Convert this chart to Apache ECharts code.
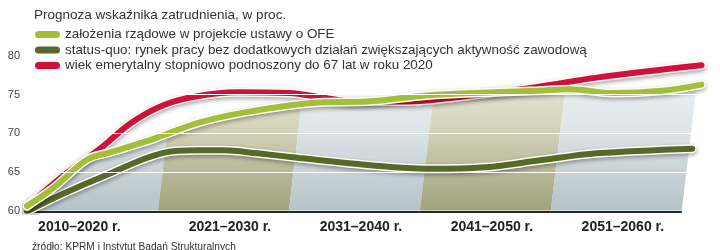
<!DOCTYPE html>
<html><head><meta charset="utf-8">
<script src="https://cdn.jsdelivr.net/npm/echarts@6/dist/echarts.min.js"></script>
<style>html,body{margin:0;padding:0;background:#fff}#c{width:720px;height:250px}</style>
</head><body><div id="c"></div>
<script>
const titleText = 'Prognoza wskaźnika zatrudnienia, w proc.';
const sourceText = 'źródło: KPRM i Instytut Badań Strukturalnych';
const seriesNames = [
  'założenia rządowe w projekcie ustawy o OFE',
  'status-quo: rynek pracy bez dodatkowych działań zwiększających aktywność zawodową',
  'wiek emerytalny stopniowo podnoszony do 67 lat w roku 2020'
];
const periodLabels = ['2010–2020 r.', '2021–2030 r.', '2031–2040 r.', '2041–2050 r.', '2051–2060 r.'];
const periodLabelYears = [2014, 2025.5, 2035.5, 2045.5, 2055.5];
const decadeStarts = [2010, 2020, 2030, 2040, 2050];
const decadeEnds = [2020, 2030, 2040, 2050, 2060];
const yTicks = [60, 65, 70, 75, 80];

const greenYears  = [2010, 2012, 2014.6, 2016.3, 2019.4, 2020.5, 2023.2, 2026.3, 2030, 2032.6, 2036, 2040.5, 2045.6, 2049, 2051.5, 2054.7, 2058.5, 2061.5];
const greenValues = [60.6, 62.9, 66.6, 67.5, 69.1, 69.8, 71.4, 72.6, 73.6, 74.0, 74.1, 74.9, 75.3, 75.5, 75.7, 75.2, 75.5, 76.3];
const darkYears   = [2010, 2012.8, 2015.8, 2020.5, 2023, 2025, 2027.6, 2030.8, 2036, 2040.5, 2045, 2049.2, 2053.5, 2060.8];
const darkValues  = [59.9, 62.2, 64.4, 67.5, 67.8, 67.8, 67.4, 66.8, 65.9, 65.4, 65.6, 66.5, 67.4, 68.0];
const redYears    = [2010, 2011, 2013, 2015.5, 2018, 2020.5, 2023, 2026, 2030, 2033, 2035, 2039, 2043, 2049, 2053.5, 2061.5];
const redValues   = [60.5, 62.0, 64.8, 67.9, 71.4, 73.7, 74.8, 75.3, 75.2, 74.5, 74.1, 74.1, 74.7, 76.0, 77.2, 78.8];

const zip = (xs, ys) => xs.map((x, i) => [x, ys[i]]);
const greenData = zip(greenYears, greenValues);
const darkData = zip(darkYears, darkValues);
const redData = zip(redYears, redValues);

const FONT = 'Liberation Sans';
const SMOOTH = 0.35;
const SLANT = 1.4;
const colGreen = '#a3be3a', colDark = '#56682a', colRed = '#d2103e';

function bandFill(i) {
  const olive = i % 2 === 1;
  return new echarts.graphic.LinearGradient(0, 0, 0, 1, olive ? [
    {offset: 0, color: '#eeeee2'}, {offset: 0.45, color: '#d5d5bd'}, {offset: 1, color: '#a0a17c'}
  ] : [
    {offset: 0, color: '#f3f5f6'}, {offset: 0.45, color: '#e0e6e9'}, {offset: 1, color: '#b6c3c9'}
  ]);
}

function outline(data) {
  return {type: 'line', data, smooth: SMOOTH, symbol: 'none', silent: true,
    lineStyle: {color: '#fffdf2', width: 9, cap: 'round', shadowColor: 'rgba(0,0,0,0.35)', shadowBlur: 4, shadowOffsetY: 2}};
}
function mainLine(name, data, color) {
  return {type: 'line', name, data, smooth: SMOOTH, symbol: 'none', color,
    lineStyle: {color, width: 6, cap: 'round'}};
}

const chart = echarts.init(document.getElementById('c'), null, {renderer: 'canvas'});
chart.setOption({
  animation: false,
  textStyle: {fontFamily: FONT},
  title: [
    {text: titleText, left: 29, top: 3, textStyle: {fontFamily: FONT, fontSize: 13.5, fontWeight: 'normal', color: '#333'}},
    {text: sourceText, left: 27, top: 237, textStyle: {fontFamily: FONT, fontSize: 10.2, fontWeight: 'normal', color: '#333'}}
  ],
  legend: {
    orient: 'vertical', left: 30, top: 23, itemWidth: 25, itemHeight: 7, itemGap: 2.5,
    icon: 'path://M3.5,0 H21.5 A3.5,3.5 0 0 1 21.5,7 H3.5 A3.5,3.5 0 0 1 3.5,0 Z',
    data: [seriesNames[0], seriesNames[1], seriesNames[2]],
    textStyle: {fontFamily: FONT, fontSize: 13.4, color: '#333', padding: [0, 0, 0, 0]},
    selectedMode: false
  },
  grid: {left: 27, right: 12, top: 56, bottom: 39.5, containLabel: false},
  xAxis: {
    type: 'value', min: 2010, max: 2062, interval: 0.5,
    axisLine: {show: false}, axisTick: {show: false}, splitLine: {show: false},
    axisLabel: {
      interval: 0, margin: 10, showMaxLabel: false, showMinLabel: false, hideOverlap: false,
      fontFamily: FONT, fontSize: 14, fontWeight: 'bold', color: '#222',
      formatter: v => { const i = periodLabelYears.indexOf(v); return i >= 0 ? periodLabels[i] : ''; }
    }
  },
  yAxis: {
    type: 'value', min: yTicks[0], max: yTicks[yTicks.length - 1], interval: 5,
    axisLine: {show: false}, axisTick: {show: false}, splitLine: {show: false},
    axisLabel: {margin: 7, fontFamily: FONT, fontSize: 11, color: '#444'}
  },
  series: [
    {
      type: 'custom', silent: true,
      data: decadeStarts.map((s, i) => [s, decadeEnds[i]]),
      encode: {x: [0, 1]},
      renderItem: (params, api) => {
        const x0 = api.value(0), x1 = api.value(1);
        const b0 = api.coord([x0, yTicks[0]]), b1 = api.coord([x1, yTicks[0]]);
        const t0 = api.coord([x0 + SLANT, yTicks[yTicks.length - 1]]), t1 = api.coord([x1 + SLANT, yTicks[yTicks.length - 1]]);
        return {type: 'group', children: [
          {type: 'polygon', shape: {points: [b0, b1, t1, t0]}, style: {fill: bandFill(params.dataIndex)}},
          {type: 'line', shape: {x1: b0[0], y1: b0[1] + 1.5, x2: b1[0], y2: b1[1] + 1.5}, style: {stroke: '#2a2a2a', lineWidth: 2}}
        ]};
      }
    },
    {
      type: 'line', data: greenData, smooth: SMOOTH, symbol: 'none', silent: true,
      lineStyle: {width: 0, opacity: 0},
      areaStyle: {color: '#ffffff', opacity: 1, origin: 'end'},
      markLine: {
        silent: true, symbol: 'none', label: {show: false},
        lineStyle: {color: '#ffffff', width: 1.2, type: 'solid'},
        data: yTicks.slice(1, 4).map(v => ({yAxis: v}))
      }
    },
    outline(darkData), mainLine(seriesNames[1], darkData, colDark),
    outline(redData), mainLine(seriesNames[2], redData, colRed),
    outline(greenData), mainLine(seriesNames[0], greenData, colGreen)
  ]
});
</script></body></html>
